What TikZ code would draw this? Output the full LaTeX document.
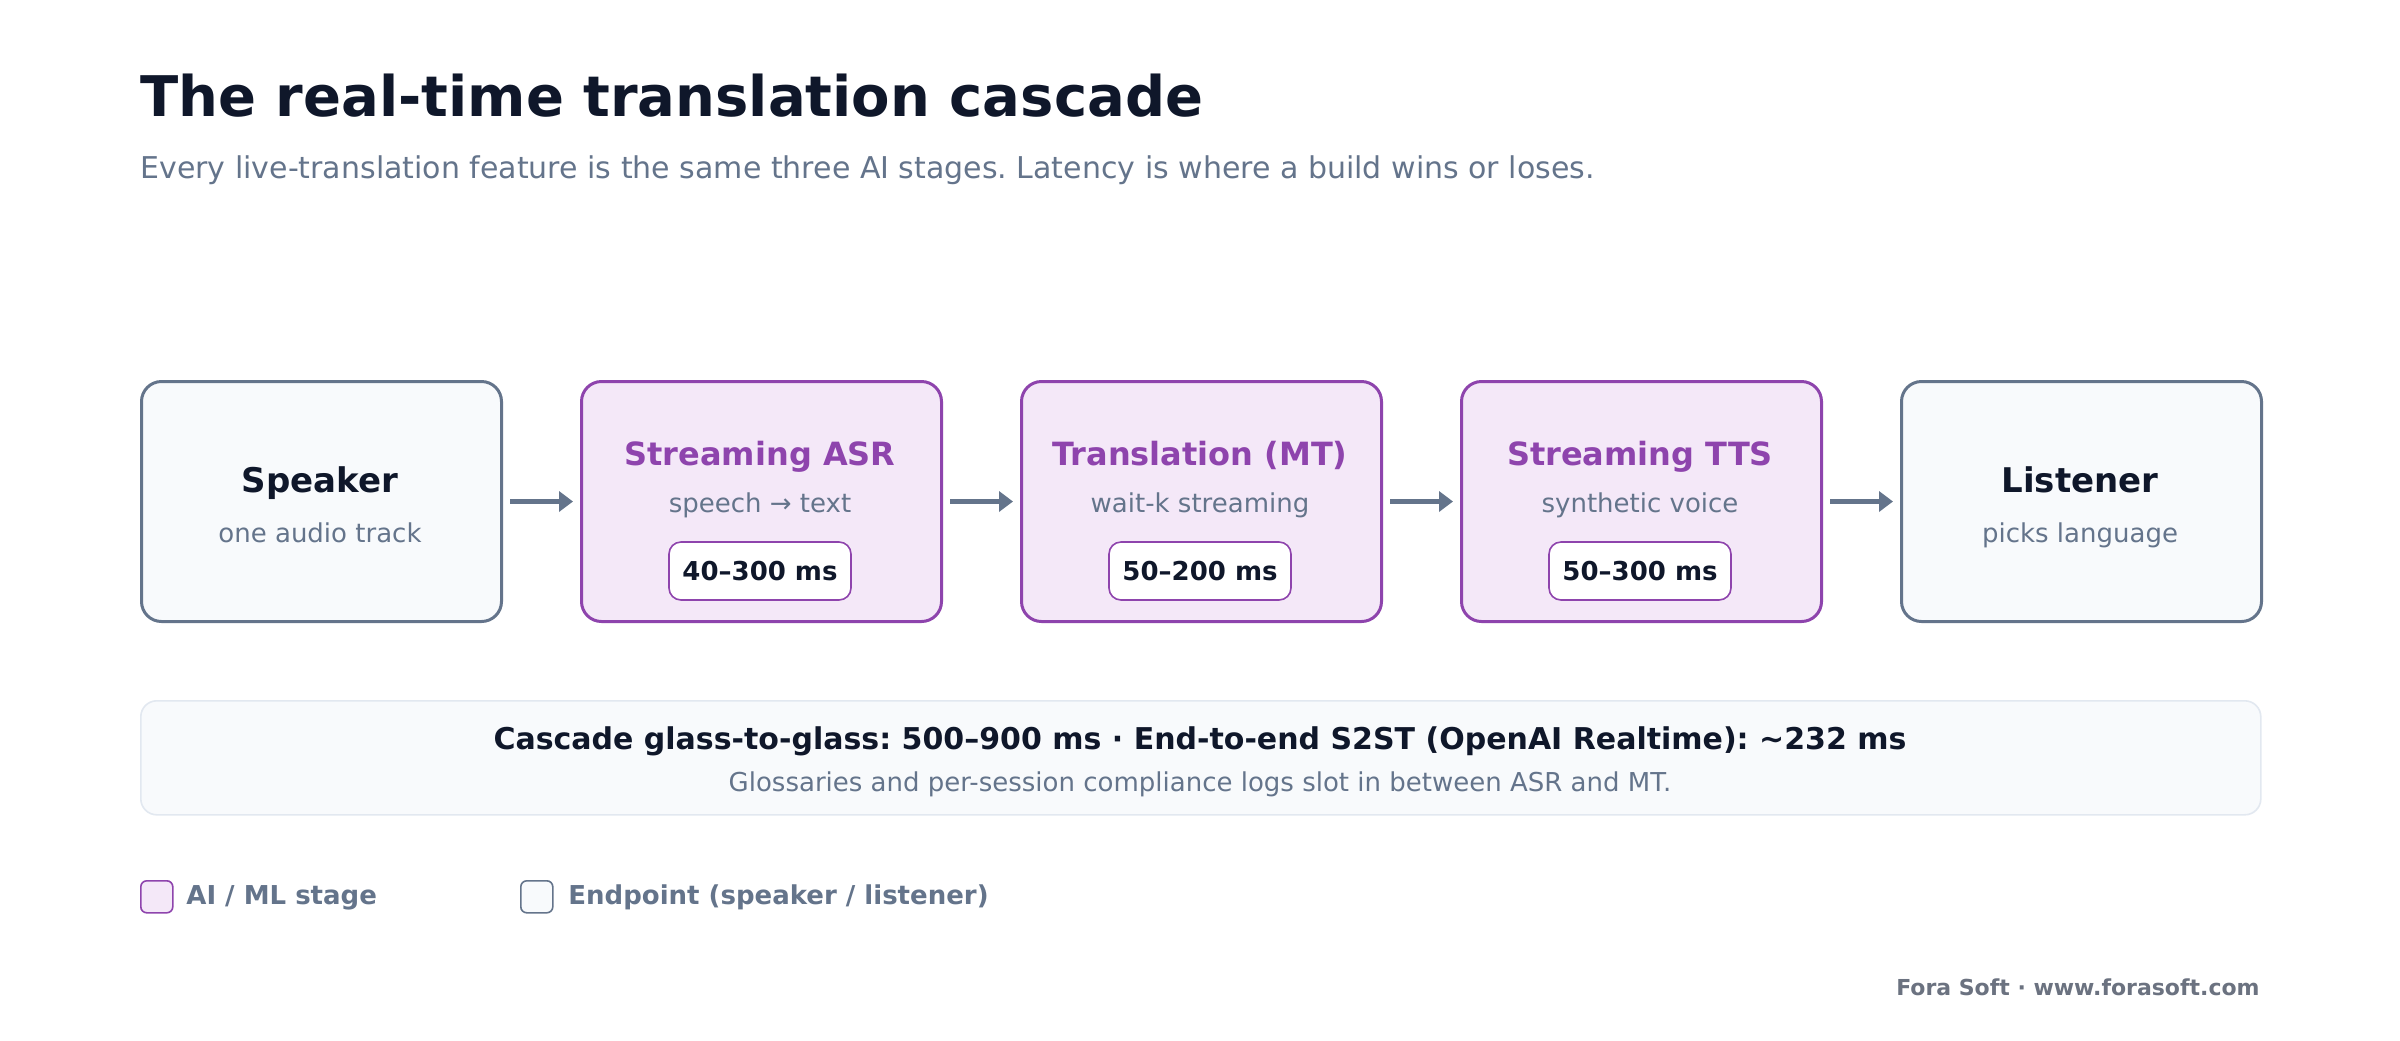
\documentclass[tikz,border=0pt]{standalone}
\usepackage{fontspec}
\setmainfont{DejaVu Sans}
\usetikzlibrary{arrows.meta,positioning}
\frenchspacing

\definecolor{ink}{HTML}{0F172A}
\definecolor{slate}{HTML}{64748B}
\definecolor{plum}{HTML}{8E44AD}
\definecolor{plumfill}{HTML}{F4E8F8}
\definecolor{endfill}{HTML}{F8FAFC}
\definecolor{panelline}{HTML}{E2E8F0}
\definecolor{footgray}{HTML}{6B7280}

\tikzset{
  endbox/.style={draw=slate, fill=endfill, line width=1.5pt, rounded corners=10pt,
    minimum width=180pt, minimum height=120pt, inner sep=0pt, anchor=north west},
  stagebox/.style={endbox, draw=plum, fill=plumfill},
  badge/.style={draw=plum, fill=white, line width=0.8pt, rounded corners=6pt,
    minimum width=91pt, minimum height=29pt, inner sep=0pt, text=ink,
    font=\fontsize{13}{16}\selectfont\bfseries},
  flow/.style={draw=slate, line width=2.2pt, -{Triangle[length=7pt,width=10pt]},
    shorten <=3.5pt, shorten >=3.5pt},
  boxtitle/.style={anchor=base, text=ink, font=\fontsize{17}{20}\selectfont\bfseries},
  stagetitle/.style={anchor=base, text=plum, font=\fontsize{16}{19}\selectfont\bfseries},
  boxsub/.style={anchor=base, text=slate, font=\fontsize{13}{16}\selectfont},
  keybox/.style={line width=0.8pt, rounded corners=3pt, minimum width=16pt,
    minimum height=16pt, inner sep=0pt, anchor=north west},
  keytext/.style={anchor=base west, inner sep=0pt, text=slate, font=\fontsize{13}{16}\selectfont\bfseries}
}

\begin{document}
\begin{tikzpicture}[x=1pt, y=-1pt]
    \useasboundingbox (0,0) rectangle (1200,520);
    \fill[white] (0,0) rectangle (1200,520);

    % heading
    \node[anchor=base west, text=ink, font=\fontsize{28}{34}\selectfont\bfseries, inner sep=0pt] (title) at (70,58) {The real-time translation cascade};
    \node[anchor=base west, text=slate, font=\fontsize{15}{18}\selectfont, inner sep=0pt] (subtitle) at (70,89) {Every live-translation feature is the same three AI stages. Latency is where a build wins or loses.};

    % the five boxes
    \node[endbox] (speaker) at (70,190) {};
    \node[stagebox] (asr) at (290,190) {};
    \node[stagebox] (mt) at (510,190) {};
    \node[stagebox] (tts) at (730,190) {};
    \node[endbox] (listener) at (950,190) {};

    \node[boxtitle] (speakerT) at (160,246) {Speaker};
    \node[boxsub] (speakerS) at (160,271) {one audio track};

    \node[stagetitle] (asrT) at (380,232.5) {Streaming ASR};
    \node[boxsub] (asrS) at (380,256) {speech → text};
    \node[badge] (asrL) at (380,285.5) {40–300 ms};

    \node[stagetitle] (mtT) at (600,232.5) {Translation (MT)};
    \node[boxsub] (mtS) at (600,256) {wait-k streaming};
    \node[badge] (mtL) at (600,285.5) {50–200 ms};

    \node[stagetitle] (ttsT) at (820,232.5) {Streaming TTS};
    \node[boxsub] (ttsS) at (820,256) {synthetic voice};
    \node[badge] (ttsL) at (820,285.5) {50–300 ms};

    \node[boxtitle] (listenerT) at (1040,246) {Listener};
    \node[boxsub] (listenerS) at (1040,271) {picks language};

    % flow arrows
    \draw[flow] (speaker) -- (asr);
    \draw[flow] (asr) -- (mt);
    \draw[flow] (mt) -- (tts);
    \draw[flow] (tts) -- (listener);

    % totals panel
    \node[draw=panelline, fill=endfill, line width=0.8pt, rounded corners=8pt, minimum width=1060pt, minimum height=57pt, inner sep=0pt, anchor=north west] (panel) at (70,350) {};
    \node[anchor=base, text=ink, font=\fontsize{15}{18}\selectfont\bfseries] (panelT) at (600,374.7) {Cascade glass-to-glass: 500–900 ms · End-to-end S2ST (OpenAI Realtime): \textasciitilde232 ms};
    \node[anchor=base, text=slate, font=\fontsize{13}{16}\selectfont] (panelS) at (600,395.5) {Glossaries and per-session compliance logs slot in between ASR and MT.};

    % legend
    \node[keybox, draw=plum, fill=plumfill] (keyAI) at (70,440) {};
    \node[keytext] (keyAIT) at (93,452.4) {AI / ML stage};
    \node[keybox, draw=slate, fill=endfill] (keyEnd) at (260,440) {};
    \node[keytext] (keyEndT) at (284,452.4) {Endpoint (speaker / listener)};

    % footer
    \node[anchor=base east, text=footgray, font=\fontsize{11}{13}\selectfont\bfseries, inner sep=0pt] (footer) at (1130,497.6) {Fora Soft · www.forasoft.com};
\end{tikzpicture}
\end{document}
